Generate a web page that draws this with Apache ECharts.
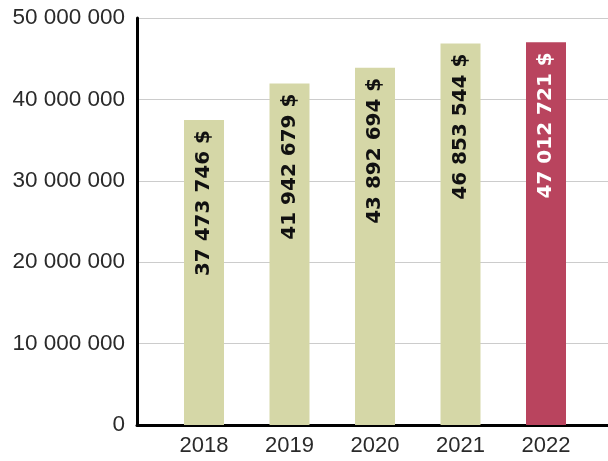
<!DOCTYPE html>
<html>
<head>
<meta charset="utf-8">
<script src="https://cdn.jsdelivr.net/npm/echarts@6/dist/echarts.min.js"></script>
<style>
  html, body { margin: 0; padding: 0; background: #fff; }
  #main { width: 608px; height: 461px; }
</style>
</head>
<body>
<div id="main"></div>
<script>
// data
var years = ['2018', '2019', '2020', '2021', '2022'];
var sales = [37473746, 41942679, 43892694, 46853544, 47012721];
var yTicks = [0, 10000000, 20000000, 30000000, 40000000, 50000000];

function spaced(n) {
    return String(n).replace(/\B(?=(\d{3})+(?!\d))/g, ' ');
}

var lastIdx = sales.length - 1;
var barData = [];
for (var i = 0; i < sales.length; i++) {
    var hi = (i === lastIdx);
    barData.push({
        value: sales[i],
        itemStyle: { color: hi ? '#b9445e' : '#d5d7a7' },
        label: { color: hi ? '#ffffff' : '#111111' }
    });
}

var myChart = echarts.init(document.getElementById('main'));
var option = {
    animation: false,
    textStyle: { fontFamily: 'Liberation Sans' },
    grid: [
        { left: 137, right: 0, top: 18, bottom: 36 },
        { left: 161.25, right: 19.25, top: 18, bottom: 36 }
    ],
    xAxis: [
        {
            gridIndex: 0,
            type: 'category',
            data: [''],
            axisLine: { show: true, lineStyle: { color: '#000', width: 3 } },
            axisTick: { show: false },
            axisLabel: { show: false }
        },
        {
            gridIndex: 1,
            type: 'category',
            data: years,
            axisLine: { show: false },
            axisTick: { show: false },
            axisLabel: { fontSize: 22, color: '#2a2a2a', margin: 10 }
        }
    ],
    yAxis: [
        {
            gridIndex: 0,
            type: 'value',
            min: yTicks[0],
            max: yTicks[yTicks.length - 1],
            interval: yTicks[1] - yTicks[0],
            axisLine: { show: true, lineStyle: { color: '#000', width: 3 } },
            axisTick: { show: false },
            splitLine: { lineStyle: { color: '#cccccc', width: 1 } },
            axisLabel: {
                fontSize: 22.5,
                color: '#2a2a2a',
                margin: 12,
                formatter: function (v) { return spaced(v); }
            }
        },
        {
            gridIndex: 1,
            type: 'value',
            min: yTicks[0],
            max: yTicks[yTicks.length - 1],
            show: false
        }
    ],
    series: [
        {
            type: 'bar',
            xAxisIndex: 1,
            yAxisIndex: 1,
            barWidth: 40,
            data: barData,
            label: {
                show: true,
                position: 'insideTop',
                rotate: 90,
                align: 'right',
                verticalAlign: 'middle',
                distance: 10,
                fontFamily: 'DejaVu Sans',
                fontWeight: 'bold',
                fontSize: 20,
                formatter: function (p) { return spaced(p.value) + ' $'; }
            }
        }
    ]
};
myChart.setOption(option);
</script>
</body>
</html>
